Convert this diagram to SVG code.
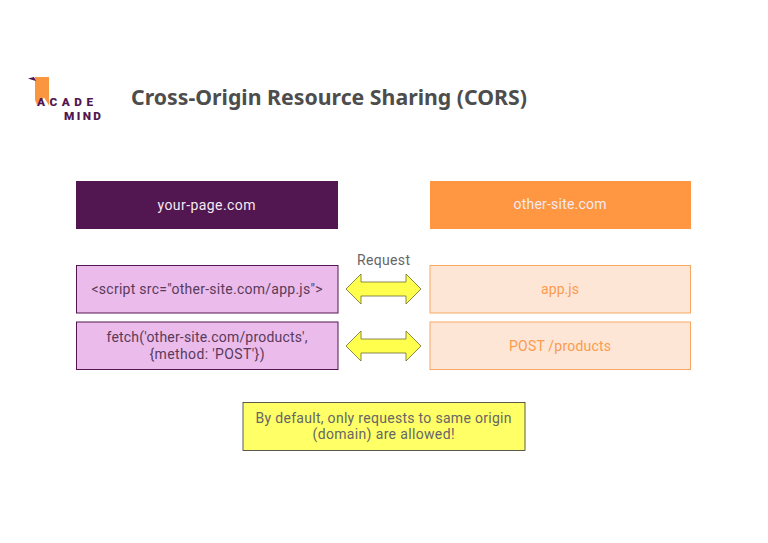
<svg xmlns="http://www.w3.org/2000/svg" width="768" height="543" viewBox="0 0 768 543">
<defs><style>
text{font-family:Roboto,"Noto Sans",sans-serif;font-size:14px;text-anchor:middle}
.purple{fill:#521650}
.orange{fill:#ff9642}
.lilac{fill:#ebbceb;stroke:#521650;stroke-width:1}
.peach{fill:#fde6d6;stroke:#f9a864;stroke-width:1}
.arrow{fill:#ffff4d;stroke:#6b6b3a;stroke-width:.8}
.d{fill:#5a3a5a}.o{fill:#fb9b4e}.w{fill:#f4eaf2}.g{fill:#666}
.brand{font-size:11.800px;font-weight:900;fill:#521650}
</style></defs>
<rect width="768" height="543" fill="#fff"/>
<g id="logo">
<path d="M35 77H49V105.500L44 97.500L37 105L35 100Z" fill="#f9963f"/>
<path d="M28 78.500L34 77L36 81L31 79.500Z" fill="#521650"/>
<text class="brand" x="65" y="105.500" textLength="56">ACADE</text>
<text class="brand" x="82.500" y="119.500" textLength="37">MIND</text>
</g>
<g id="title"><text x="329" y="104.500" textLength="396" lengthAdjust="spacingAndGlyphs" style="font-family:'Noto Sans',sans-serif;font-size:21px;font-weight:700;fill:#4d4d4d">Cross-Origin Resource Sharing (CORS)</text></g>
<g id="your-page"><rect class="purple" x="76" y="181" width="262" height="48"/><text class="w" x="206.500" y="209.500" textLength="98">your-page.com</text></g>
<g id="other-site"><rect class="orange" x="430" y="181" width="261" height="48"/><text class="w" x="560" y="209" textLength="93">other-site.com</text></g>
<g id="request-label"><text class="g" x="383.500" y="265" textLength="53">Request</text></g>
<g id="script-node"><rect class="lilac" x="76.500" y="265.500" width="261.500" height="47.500"/><text class="d" x="207" y="294" textLength="231">&lt;script src="other-site.com/app.js"&gt;</text></g>
<g id="fetch-node"><rect class="lilac" x="76.500" y="322" width="261.500" height="47.500"/><text class="d" x="207" y="342" textLength="201">fetch('other-site.com/products',</text><text class="d" x="207" y="359" textLength="115">{method: 'POST'})</text></g>
<g id="app-node"><rect class="peach" x="430" y="265.500" width="260.500" height="47.500"/><text class="o" x="560" y="294" textLength="38">app.js</text></g>
<g id="post-node"><rect class="peach" x="430" y="322" width="260.500" height="47.500"/><text class="o" x="560" y="351" textLength="102">POST /products</text></g>
<g id="note"><rect x="243" y="402.500" width="282" height="48" fill="#ffff66" stroke="#333" stroke-width=".8"/><text class="g" x="383.500" y="423" textLength="256">By default, only requests to same origin</text><text class="g" x="383.500" y="439" textLength="142">(domain) are allowed!</text></g>
<g id="connectors">
<path class="arrow" d="M346 289L361 274V282H406V274L421 289L406 304V296H361V304Z"/>
<path class="arrow" d="M346 346L361 331V339H406V331L421 346L406 361V353H361V361Z"/>
</g>
</svg>
